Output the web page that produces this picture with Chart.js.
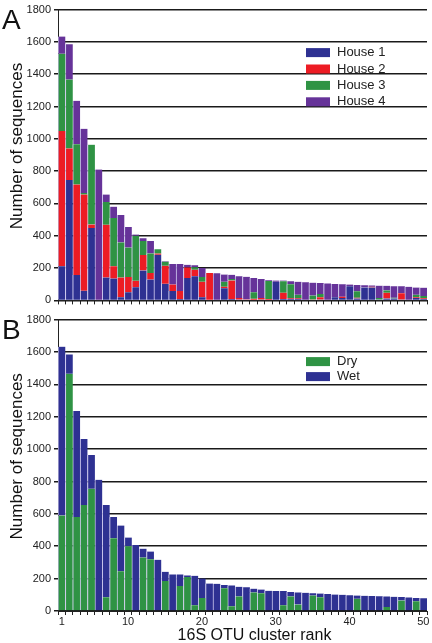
<!DOCTYPE html>
<html>
<head>
<meta charset="utf-8">
<script src="https://cdn.jsdelivr.net/npm/chart.js@4.4.0/dist/chart.umd.min.js"></script>
<style>
html, body { margin: 0; padding: 0; background: #fff; }
#wrapA { position: absolute; left: 0; top: 0; width: 432px; height: 310px; }
#wrapB { position: absolute; left: 0; top: 310px; width: 432px; height: 333px; }
</style>
</head>
<body>
<div id="wrapA"><canvas id="chartA"></canvas></div>
<div id="wrapB"><canvas id="chartB"></canvas></div>
<script>
"use strict";

// OTU cluster ranks (x categories)
var ranks = [1, 2, 3, 4, 5, 6, 7, 8, 9, 10, 11, 12, 13, 14, 15, 16, 17, 18, 19, 20,
    21, 22, 23, 24, 25, 26, 27, 28, 29, 30, 31, 32, 33, 34, 35, 36, 37, 38, 39, 40,
    41, 42, 43, 44, 45, 46, 47, 48, 49, 50];
var shownRanks = [1, 10, 20, 30, 40, 50];

// panel A : sequences per house
var house1 = [212, 746, 157, 60, 448, 0, 141, 135, 20, 50, 81, 185, 129, 282, 103, 58, 8, 139, 150, 20,
    0, 0, 75, 8, 5, 0, 0, 5, 0, 115, 8, 10, 10, 0, 0, 5, 0, 20, 15, 88,
    12, 80, 80, 5, 12, 12, 5, 0, 15, 8];
var house2 = [836, 195, 560, 595, 22, 0, 327, 77, 121, 95, 40, 96, 41, 8, 111, 40, 50, 65, 40, 95,
    170, 0, 10, 115, 10, 6, 10, 10, 8, 0, 40, 5, 5, 0, 5, 15, 0, 0, 8, 0,
    5, 0, 5, 0, 35, 0, 40, 0, 5, 5];
var house3 = [478, 426, 250, 10, 494, 0, 141, 298, 218, 182, 279, 86, 121, 26, 26, 0, 0, 0, 15, 30,
    0, 0, 30, 10, 0, 0, 40, 0, 112, 0, 70, 85, 20, 0, 25, 20, 0, 0, 0, 0,
    40, 0, 0, 10, 15, 5, 0, 0, 15, 15];
var house4 = [107, 218, 269, 397, 0, 810, 46, 70, 169, 127, 8, 18, 76, 0, 2, 128, 168, 16, 13, 55,
    0, 168, 45, 25, 135, 140, 88, 118, 5, 8, 5, 18, 80, 112, 80, 68, 105, 82, 77, 10,
    39, 14, 8, 76, 28, 71, 42, 84, 45, 51];

// panel B : sequences per sample type
var dry = [590, 1465, 580, 655, 755, 0, 85, 450, 245, 400, 0, 330, 320, 0, 185, 0, 155, 210, 35, 80,
    0, 0, 140, 30, 90, 0, 115, 110, 0, 0, 35, 90, 40, 0, 95, 85, 0, 0, 0, 0,
    75, 0, 0, 0, 25, 0, 65, 0, 60, 0];
var wet = [1043, 120, 656, 407, 209, 810, 570, 130, 283, 54, 408, 55, 47, 316, 57, 226, 71, 10, 183, 120,
    170, 168, 20, 128, 60, 146, 23, 23, 125, 123, 88, 28, 75, 112, 15, 23, 105, 102, 100, 98,
    21, 94, 93, 91, 65, 88, 22, 84, 20, 79];

var BLUE = '#2e3192';
var RED = '#ed1c24';
var GREEN = '#2f9344';
var PURPLE = '#663399';
var FONT = '"Liberation Sans", Arial, sans-serif';

Chart.defaults.font.family = FONT;
Chart.defaults.animation = false;

function barSet(label, data, colour) {
    return {
        label: label,
        data: data,
        backgroundColor: colour,
        borderColor: 'rgba(205, 200, 240, 0.9)',
        borderWidth: { left: 1, right: 0, top: 0, bottom: 0 },
        borderSkipped: false,
        categoryPercentage: 1,
        barPercentage: 1
    };
}

// legend inside the plot + panel letter + axis titles
var panelText = {
    id: 'panelText',
    afterDraw: function (chart, args, opts) {
        var ctx = chart.ctx, area = chart.chartArea;
        ctx.save();
        ctx.textBaseline = 'middle';
        ctx.font = '13px ' + FONT;
        chart.data.datasets.forEach(function (ds, i) {
            var y = area.top + opts.legendTop + i * opts.rowHeight;
            ctx.fillStyle = ds.backgroundColor;
            ctx.fillRect(area.left + opts.legendLeft, y - 4.5, 24, 9);
            ctx.fillStyle = '#222';
            ctx.textAlign = 'left';
            ctx.fillText(ds.label, area.left + opts.legendLeft + 31, y);
        });
        ctx.fillStyle = '#111';
        ctx.font = '28px ' + FONT;
        ctx.fillText(opts.letter, 2, area.top + 12);
        ctx.font = '17px ' + FONT;
        ctx.translate(17, (area.top + area.bottom) / 2 - 9);
        ctx.rotate(-Math.PI / 2);
        ctx.textAlign = 'center';
        ctx.fillText('Number of sequences', 0, 0);
        ctx.restore();
        if (opts.xTitle) {
            ctx.save();
            ctx.fillStyle = '#111';
            ctx.font = '16px ' + FONT;
            ctx.textAlign = 'center';
            ctx.textBaseline = 'middle';
            ctx.fillText(opts.xTitle, (area.left + area.right) / 2 + 12, chart.height - 7);
            ctx.restore();
        }
    }
};

function makeOptions(xHeight, padTop, showLabels, letter, legendTop, rowHeight, xTitle) {
    return {
        responsive: true,
        maintainAspectRatio: false,
        layout: { padding: { top: padTop, right: 5, left: 0, bottom: 0 } },
        plugins: {
            legend: { display: false },
            tooltip: { enabled: false },
            panelText: { letter: letter, legendLeft: 248, legendTop: legendTop, rowHeight: rowHeight, xTitle: xTitle }
        },
        scales: {
            x: {
                stacked: true,
                afterFit: function (scale) { scale.height = xHeight; },
                grid: { display: true, drawOnChartArea: false, drawTicks: true, tickLength: 4, color: '#222', offset: true },
                border: { display: true, color: '#222', width: 1 },
                ticks: {
                    autoSkip: false,
                    maxRotation: 0,
                    padding: 0,
                    color: '#222',
                    font: { size: 11 },
                    callback: function (value, index) {
                        if (!showLabels) return '';
                        return shownRanks.indexOf(ranks[index]) >= 0 ? String(ranks[index]) : '';
                    }
                }
            },
            y: {
                stacked: true,
                min: 0,
                max: 1800,
                afterFit: function (scale) { scale.width = 58; },
                grid: { color: '#1a1a1a', lineWidth: 1.5, drawTicks: true, tickLength: 4 },
                border: { display: true, color: '#222', width: 1 },
                ticks: {
                    stepSize: 200,
                    padding: 3,
                    color: '#222',
                    font: { size: 11 },
                    callback: function (value) { return String(value); }
                }
            }
        }
    };
}

new Chart(document.getElementById('chartA').getContext('2d'), {
    type: 'bar',
    data: {
        labels: ranks,
        datasets: [
            barSet('House 1', house1, BLUE),
            barSet('House 2', house2, RED),
            barSet('House 3', house3, GREEN),
            barSet('House 4', house4, PURPLE)
        ]
    },
    options: makeOptions(7, 6, false, 'A', 43, 16.4, null),
    plugins: [panelText]
});

new Chart(document.getElementById('chartB').getContext('2d'), {
    type: 'bar',
    data: {
        labels: ranks,
        datasets: [
            barSet('Dry', dry, GREEN),
            barSet('Wet', wet, BLUE)
        ]
    },
    options: makeOptions(32, 4, true, 'B', 42, 15, '16S OTU cluster rank'),
    plugins: [panelText]
});
</script>
</body>
</html>
